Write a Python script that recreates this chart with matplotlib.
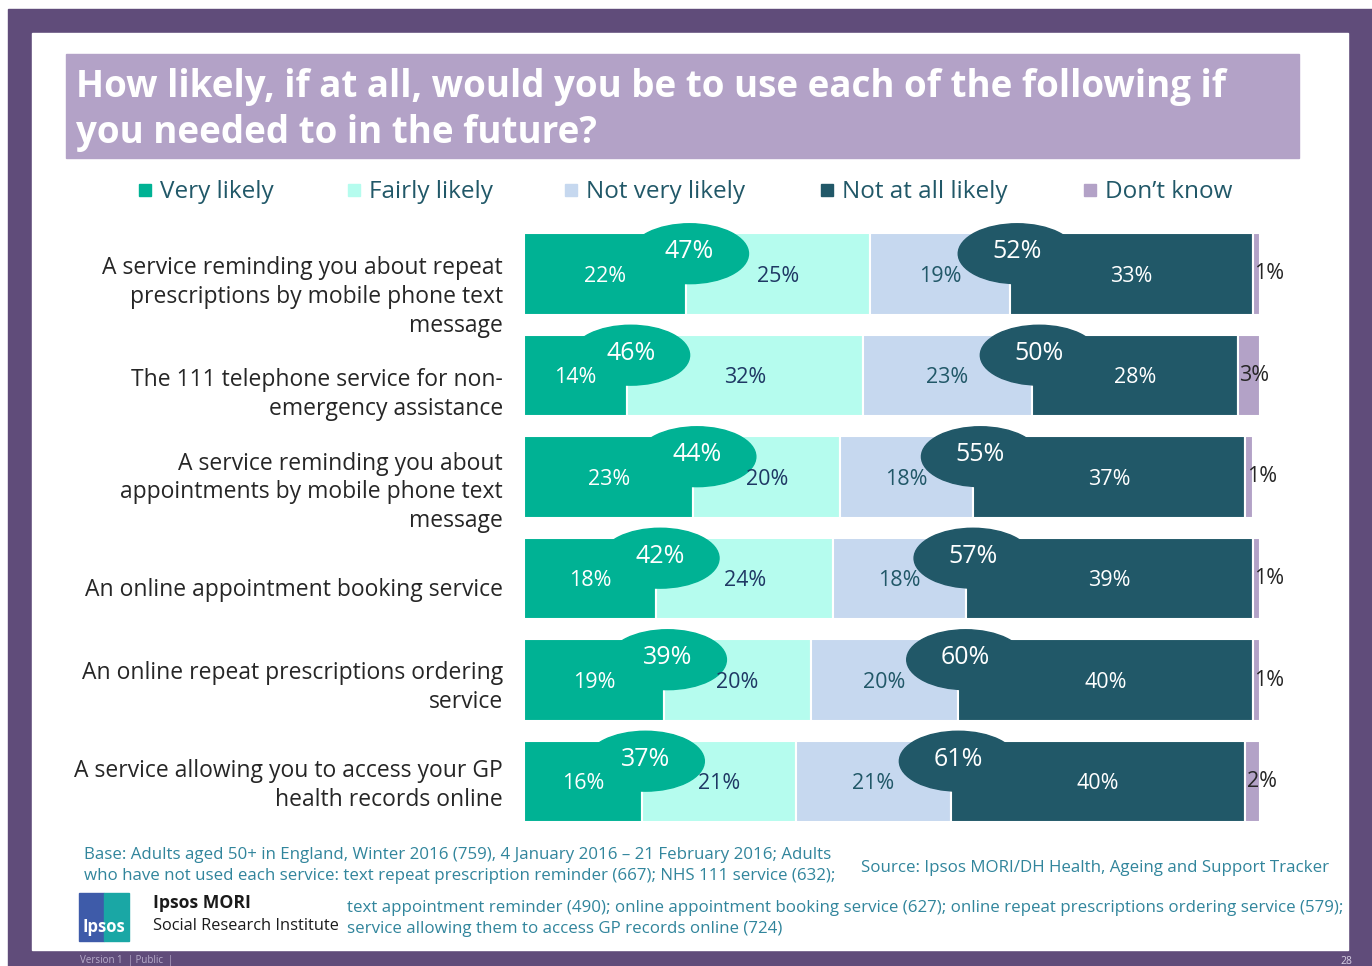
import matplotlib.pyplot as plt
import numpy as np
from matplotlib.patches import Rectangle, Ellipse

plt.rcParams['font.family'] = ['Open Sans', 'DejaVu Sans']

# survey results, % of adults 50+ who have not used each service
services = [
    "A service reminding you about repeat\nprescriptions by mobile phone text\nmessage",
    "The 111 telephone service for non-\nemergency assistance",
    "A service reminding you about\nappointments by mobile phone text\nmessage",
    "An online appointment booking service",
    "An online repeat prescriptions ordering\nservice",
    "A service allowing you to access your GP\nhealth records online",
]
very_likely = [22, 14, 23, 18, 19, 16]
fairly_likely = [25, 32, 20, 24, 20, 21]
not_very_likely = [19, 23, 18, 18, 20, 21]
not_at_all_likely = [33, 28, 37, 39, 40, 40]
dont_know = [1, 3, 1, 1, 1, 2]
net_likely = [47, 46, 44, 42, 39, 37]
net_unlikely = [52, 50, 55, 57, 60, 61]

categories = ["Very likely", "Fairly likely", "Not very likely",
              "Not at all likely", "Don\u2019t know"]
colors = ["#00B294", "#B5FCEE", "#C6D8EF", "#215868", "#B3A2C7"]
label_colors = ["white", "#1F3864", "#215868", "white", "#262626"]

W, H = 1372, 966
fig = plt.figure(figsize=(W / 100, H / 100), dpi=100)


def px(x, y):
    return x / W, 1 - y / H


def box(x0, y0, x1, y1, color):
    fig.patches.append(Rectangle(px(x0, y1), (x1 - x0) / W, (y1 - y0) / H,
                                 transform=fig.transFigure, color=color,
                                 zorder=-5))


# slide frame
box(8, 9, W, H, "#604C7A")
box(32, 33, 1348, 950, "white")
box(66, 54, 1299, 158, "#B3A2C7")

fig.text(*px(76, 87), "How likely, if at all, would you be to use each of the following if",
         color="white", fontsize=26.5, fontweight="bold", va="center", ha="left")
fig.text(*px(76, 133), "you needed to in the future?",
         color="white", fontsize=26.5, fontweight="bold", va="center", ha="left")

# legend
legend_x = [145, 354, 571, 827, 1090]
for lx, name, c in zip(legend_x, categories, colors):
    fig.patches.append(Rectangle(px(lx - 6, 196), 12 / W, 12 / H,
                                 transform=fig.transFigure, color=c))
    fig.text(*px(lx + 15, 192), name, color="#215868", fontsize=17.5,
             va="center", ha="left")

# stacked bars
ax = fig.add_axes([524 / W, 1 - 832.25 / H, 736 / W, 609 / H])
ax.set_zorder(2)
ax.patch.set_visible(False)
ax.set_xlim(0, 100)
ax.set_ylim(5.5, -0.5)
ax.axis("off")

rows = np.arange(len(services))
series = [very_likely, fairly_likely, not_very_likely, not_at_all_likely, dont_know]
left = np.zeros(len(services))
for i, vals in enumerate(series):
    vals = np.array(vals, dtype=float)
    ax.barh(rows, vals, left=left, height=0.8, color=colors[i],
            edgecolor="white", linewidth=1.5, zorder=2)
    for r, v, l in zip(rows, vals, left):
        if i == 4:
            ax.text(l + 0.2, r, f"{v:.0f}%", color=label_colors[i], fontsize=15.5,
                    va="center", ha="left", zorder=5, clip_on=False)
        else:
            ax.text(l + v / 2, r + 0.02, f"{v:.0f}%", color=label_colors[i],
                    fontsize=15.5, va="center", ha="center", zorder=5)
    left += vals

# net likely / net unlikely bubbles
b1 = np.array(very_likely)
b2 = np.array(very_likely) + np.array(fairly_likely) + np.array(not_very_likely)
for r in rows:
    for bx, net, c in [(b1[r] + 0.5, net_likely[r], colors[0]),
                       (b2[r] + 1.0, net_unlikely[r], colors[3])]:
        ax.add_patch(Ellipse((bx, r - 0.2), 16, 0.59, color=c, zorder=3,
                             clip_on=False))
        ax.text(bx, r - 0.22, f"{net}%", color="white", fontsize=18,
                va="center", ha="center", zorder=6)

# service labels
label_y = np.linspace(297, 785.5, len(services))
for s, y in zip(services, label_y):
    fig.text(*px(503, y), s, color="#262626", fontsize=16.5, ha="right",
             va="center", linespacing=1.27, multialignment="right")

# footnotes
note = "#31859C"
fig.text(*px(84, 855), "Base: Adults aged 50+ in England, Winter 2016 (759), 4 January 2016 \u2013 21 February 2016; Adults",
         color=note, fontsize=12.2, va="center")
fig.text(*px(84, 876), "who have not used each service: text repeat prescription reminder (667); NHS 111 service (632);",
         color=note, fontsize=12.2, va="center")
fig.text(*px(861, 868), "Source: Ipsos MORI/DH Health, Ageing and Support Tracker",
         color=note, fontsize=12.2, va="center")
fig.text(*px(347, 908), "text appointment reminder (490); online appointment booking service (627); online repeat prescriptions ordering service (579);",
         color=note, fontsize=12.2, va="center")
fig.text(*px(347, 929), "service allowing them to access GP records online (724)",
         color=note, fontsize=12.2, va="center")

# logo
box(79, 893, 104, 941, "#3E5BA9")
box(104, 893, 129, 941, "#1AA7A5")
fig.text(*px(104, 927), "Ipsos", color="white", fontsize=12, fontweight="bold",
         ha="center", va="center")
fig.text(*px(153, 903), "Ipsos MORI", color="#1A1A1A", fontsize=12.7,
         fontweight="bold", va="center")
fig.text(*px(153, 926), "Social Research Institute", color="#1A1A1A", fontsize=11.8,
         va="center")

fig.text(*px(80, 961), "Version 1  | Public  |", color="#B8ADCB", fontsize=7,
         va="center")
fig.text(*px(1340, 961), "28", color="#D8D0E4", fontsize=7.5, va="center")

fig.savefig("out.png", dpi=100)
